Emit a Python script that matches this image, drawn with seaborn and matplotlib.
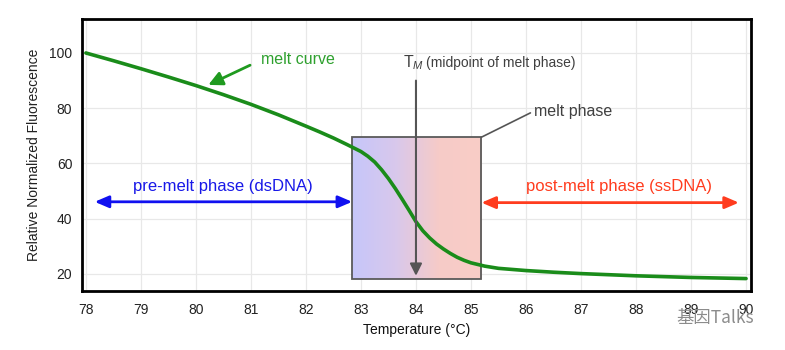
import numpy as np
import pandas as pd
import matplotlib
matplotlib.use("Agg")
import matplotlib.pyplot as plt
import seaborn as sns
from matplotlib.colors import LinearSegmentedColormap
from matplotlib.patches import Rectangle

# ---- data ----
temperature = [78, 78.5, 79, 79.5, 80, 80.5, 81, 81.5, 82, 82.25, 82.5, 82.75, 83,
               83.125, 83.25, 83.375, 83.5, 83.625, 83.75, 83.875, 84, 84.125, 84.25,
               84.375, 84.5, 84.625, 84.75, 84.875, 85, 85.25, 85.5, 85.75, 86, 86.5,
               87, 87.5, 88, 88.5, 89, 89.5, 90]
fluorescence = [100, 97.2, 94.3, 91.3, 88.2, 84.9, 81.4, 77.6, 73.5, 71.4, 69.2, 66.8,
                64.3, 62.6, 60.5, 57.7, 54.5, 50.9, 47.0, 43.0, 38.9, 35.6, 33.0, 30.8,
                29.0, 27.4, 26.0, 24.9, 24.0, 22.8, 22.0, 21.6, 21.2, 20.6, 20.1, 19.7,
                19.3, 19.0, 18.7, 18.5, 18.3]
x_ticks = [78, 79, 80, 81, 82, 83, 84, 85, 86, 87, 88, 89, 90]
y_ticks = [20, 40, 60, 80, 100]
melt_phase = [82.84, 85.19]      # temperature span of melt phase box
melt_box_y = [18.3, 69.5]
tm_value = [84.0]
pre_melt_span = [78.16, 82.84]
post_melt_span = [85.19, 89.87]

df = pd.DataFrame({"Temperature": temperature, "Fluorescence": fluorescence})

sns.set_theme(style="whitegrid")
plt.rcParams["font.family"] = ["Liberation Sans", "DejaVu Sans"]
plt.rcParams["mathtext.fontset"] = "custom"
plt.rcParams["mathtext.rm"] = "Liberation Sans"
plt.rcParams["mathtext.it"] = "Liberation Sans:italic"

fig = plt.figure(figsize=(7.85, 3.5), dpi=100)
ax = fig.add_axes([0.1045, 0.1686, 0.9567 - 0.1045, 0.9457 - 0.1686])

# melt phase box with gradient
cmap = LinearSegmentedColormap.from_list("melt", ["#c6c6fa", "#d8c8ec", "#f6cbc8", "#f9cdc6"])
grad = np.linspace(0, 1, 256).reshape(1, -1)
ax.imshow(grad, cmap=cmap, aspect="auto",
          extent=[melt_phase[0], melt_phase[1], melt_box_y[0], melt_box_y[1]],
          zorder=1.5, interpolation="bicubic")
ax.add_patch(Rectangle((melt_phase[0], melt_box_y[0]), melt_phase[1] - melt_phase[0],
                       melt_box_y[1] - melt_box_y[0], fill=False, edgecolor="#5a5a5a",
                       lw=1.3, zorder=1.6))

sns.lineplot(data=df, x="Temperature", y="Fluorescence", ax=ax, color="#1a8c1a",
             lw=2.6, zorder=3)

ax.set_xlim(77.93, 90.09)
ax.set_ylim(13.8, 112.3)
ax.set_xticks(x_ticks)
ax.set_yticks(y_ticks)
ax.set_xlabel("Temperature (°C)", fontsize=10, color="#111111", labelpad=4)
ax.set_ylabel("Relative Normalized Fluorescence", fontsize=10, color="#222222", labelpad=6)
ax.tick_params(axis="both", direction="inout", length=8, width=1.8, colors="black",
               labelsize=10, labelcolor="#222222")
ax.tick_params(axis="x", pad=5)
ax.tick_params(axis="y", pad=3)
ax.grid(True, color="#e8e8e8", lw=0.9)
for s in ax.spines.values():
    s.set_visible(True)
    s.set_color("black")
    s.set_linewidth(2)
ax.set_facecolor("white")

# Tm arrow
ax.annotate("", xy=(tm_value[0], melt_box_y[0]), xytext=(tm_value[0], 91),
            arrowprops=dict(arrowstyle="-|>,head_length=0.6,head_width=0.3",
                            color="#555555", lw=1.5), zorder=4)
ax.text(83.76, 96.4, r"T$_{\mathit{M}}$", fontsize=11.5, color="#404040", va="center", ha="left")
ax.text(84.18, 96.3, "(midpoint of melt phase)", fontsize=10, color="#404040",
        va="center", ha="left")

# melt phase leader
ax.plot([melt_phase[1], 86.08], [melt_box_y[1], 78.3], color="#555555", lw=1.2, zorder=4)
ax.text(86.15, 78.8, "melt phase", fontsize=11.5, color="#404040", va="center", ha="left")

# melt curve label
ax.annotate("", xy=(80.18, 88.0), xytext=(81.03, 96.0),
            arrowprops=dict(arrowstyle="-|>,head_length=0.7,head_width=0.35",
                            color="#1f9a1f", lw=2), zorder=4)
ax.text(81.18, 97.6, "melt curve", fontsize=11.5, color="#2ea02e", va="center", ha="left")

# pre / post melt arrows
ax.annotate("", xy=(pre_melt_span[0], 46.1), xytext=(pre_melt_span[1], 46.1),
            arrowprops=dict(arrowstyle="<|-|>,head_length=0.7,head_width=0.3",
                            color="#1010f0", lw=2, shrinkA=0, shrinkB=0), zorder=4)
ax.text(80.49, 51.6, "pre-melt phase (dsDNA)", fontsize=12, color="#1818e8",
        ha="center", va="center")
ax.annotate("", xy=(post_melt_span[0], 45.8), xytext=(post_melt_span[1], 45.8),
            arrowprops=dict(arrowstyle="<|-|>,head_length=0.7,head_width=0.3",
                            color="#ff3c1e", lw=2, shrinkA=0, shrinkB=0), zorder=4)
ax.text(87.69, 51.6, "post-melt phase (ssDNA)", fontsize=12, color="#ff3c1e",
        ha="center", va="center")

# watermark
fig.text(0.862, 0.092, "基因Talks", fontsize=12.5, color="#8c8c8c",
         family=["Noto Sans CJK SC", "DejaVu Sans"], ha="left", va="center")

fig.savefig("out.png", dpi=100, facecolor="white")
